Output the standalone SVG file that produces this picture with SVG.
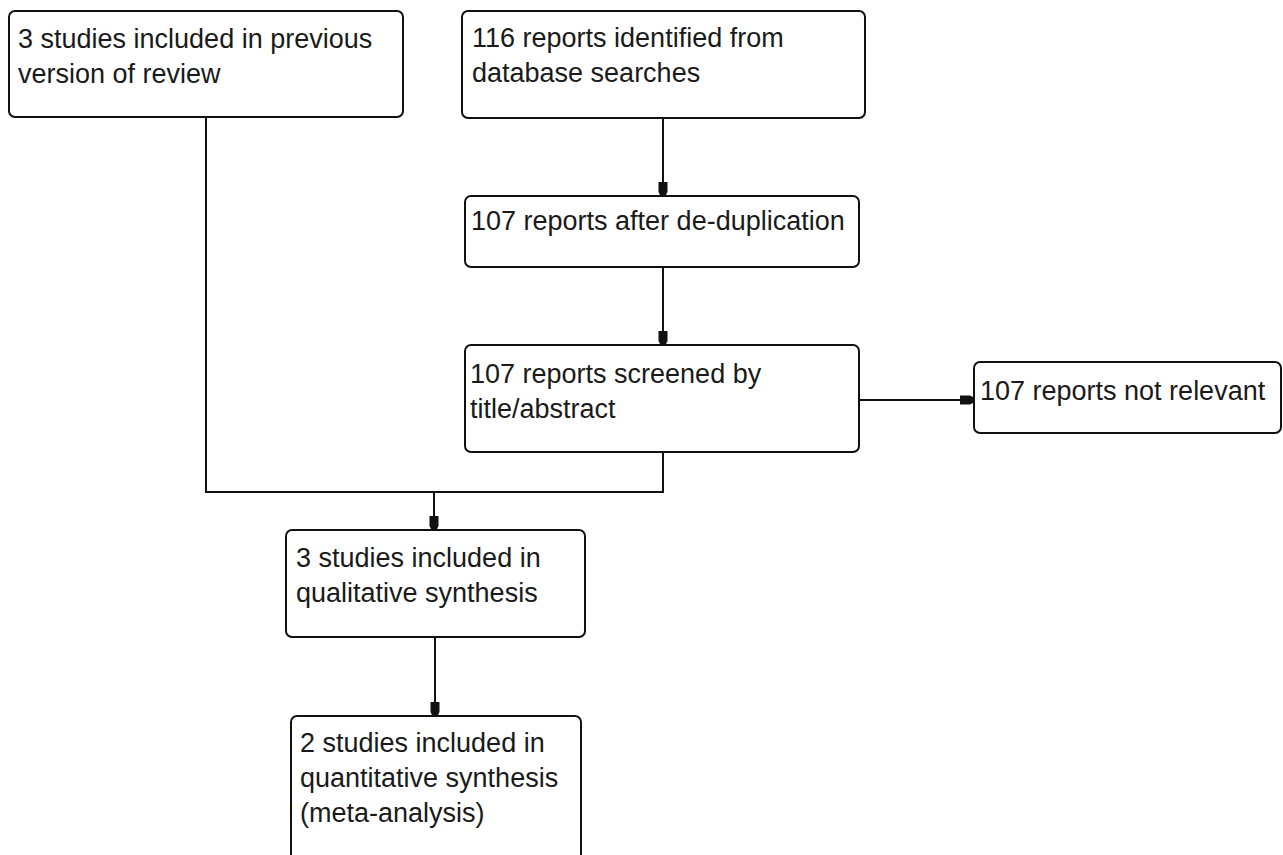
<svg xmlns="http://www.w3.org/2000/svg" width="1283" height="855" viewBox="0 0 1283 855">
  <defs>
    <style>
      .box { fill: #ffffff; stroke: #111111; stroke-width: 2; }
      .lbl { font-family: "Liberation Sans", Arial, sans-serif; font-size: 27px; fill: #1a1a1a; }
      .conn { fill: none; stroke: #111111; stroke-width: 2; }
    </style>
    <marker id="arr" markerUnits="userSpaceOnUse" markerWidth="16" markerHeight="12" refX="14" refY="6" orient="auto" viewBox="0 0 16 12">
      <path d="M1,1.5 L11,1.5 L15,3.5 L15,8.5 L11,10.5 L1,10.5 Z" fill="#111111"/>
    </marker>
  </defs>
  <rect width="1283" height="855" fill="#ffffff"/>

  <g id="connectors">
    <path class="conn" d="M663,118 V195" marker-end="url(#arr)"/>
    <path class="conn" d="M663,267 V344" marker-end="url(#arr)"/>
    <path class="conn" d="M859,400 H973" marker-end="url(#arr)"/>
    <path class="conn" d="M206,117 V492 H663 V452"/>
    <path class="conn" d="M434,492 V529" marker-end="url(#arr)"/>
    <path class="conn" d="M435,637 V715" marker-end="url(#arr)"/>
  </g>

  <g id="n1">
    <rect class="box" x="9" y="11" width="394" height="106" rx="6"/>
    <text class="lbl" x="18" y="48">3 studies included in previous</text>
    <text class="lbl" x="18" y="83">version of review</text>
  </g>
  <g id="n2">
    <rect class="box" x="462" y="11" width="403" height="107" rx="6"/>
    <text class="lbl" x="472" y="47">116 reports identified from</text>
    <text class="lbl" x="472" y="82">database searches</text>
  </g>
  <g id="n3">
    <rect class="box" x="465" y="196" width="394" height="71" rx="6"/>
    <text class="lbl" x="471" y="230">107 reports after de-duplication</text>
  </g>
  <g id="n4">
    <rect class="box" x="465" y="345" width="394" height="107" rx="6"/>
    <text class="lbl" x="470" y="383">107 reports screened by</text>
    <text class="lbl" x="470" y="418">title/abstract</text>
  </g>
  <g id="n5">
    <rect class="box" x="974" y="362" width="307" height="71" rx="6"/>
    <text class="lbl" x="980" y="400">107 reports not relevant</text>
  </g>
  <g id="n6">
    <rect class="box" x="286" y="530" width="299" height="107" rx="6"/>
    <text class="lbl" x="296" y="567">3 studies included in</text>
    <text class="lbl" x="296" y="602">qualitative synthesis</text>
  </g>
  <g id="n7">
    <rect class="box" x="291" y="716" width="290" height="170" rx="6"/>
    <text class="lbl" x="300" y="752">2 studies included in</text>
    <text class="lbl" x="300" y="787">quantitative synthesis</text>
    <text class="lbl" x="300" y="822">(meta-analysis)</text>
  </g>
</svg>
